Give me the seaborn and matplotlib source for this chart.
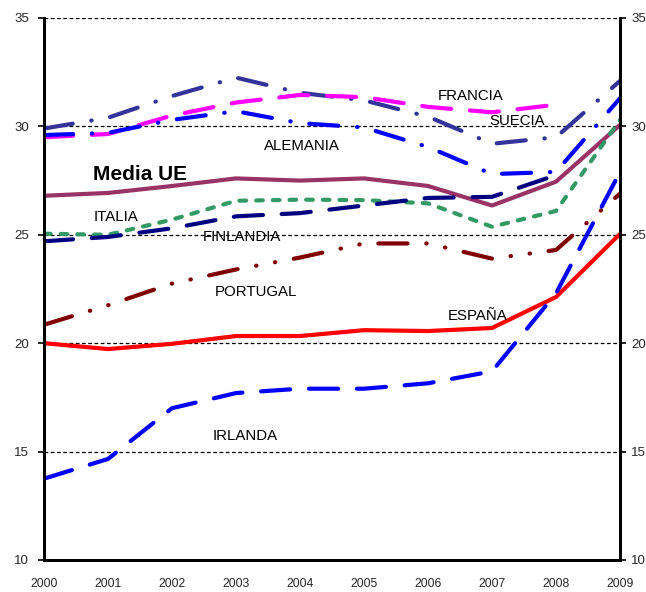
"""Renta / indicador por pais, 2000-2009, con la media UE."""

import matplotlib

matplotlib.use("Agg")
import matplotlib.pyplot as plt
import pandas as pd
import seaborn as sns

years = [2000, 2001, 2002, 2003, 2004, 2005, 2006, 2007, 2008, 2009]

suecia = [29.9, 30.4, 31.4, 32.25, 31.55, 31.2, 30.45, 29.2, 29.5, 32.1]
francia = [29.5, 29.65, 30.5, 31.1, 31.45, 31.35, 30.9, 30.65, 31.0]
alemania = [29.6, 29.7, 30.3, 30.7, 30.15, 29.95, 29.05, 27.8, 27.9, 31.3]
media_ue = [26.8, 26.93, 27.25, 27.6, 27.5, 27.6, 27.25, 26.35, 27.45, 30.07]
italia = [25.05, 25.0, 25.7, 26.57, 26.62, 26.6, 26.45, 25.37, 26.1, 30.3]
finlandia = [24.7, 24.9, 25.3, 25.85, 26.0, 26.35, 26.7, 26.75, 27.75]
portugal = [20.85, 21.75, 22.75, 23.4, 23.95, 24.6, 24.6, 23.9, 24.3, 26.9]
espana = [20.0, 19.73, 19.97, 20.33, 20.33, 20.6, 20.56, 20.7, 22.13, 25.04]
irlanda = [13.75, 14.66, 17.0, 17.7, 17.9, 17.9, 18.15, 18.7, 22.3, 27.9]

series = [
    ("SUECIA", suecia, "#333399", (0, (7, 4.5, 0.1, 4.5))),
    ("FRANCIA", francia, "#FF00FF", (0, (7, 4.5))),
    ("ALEMANIA", alemania, "#0000FF", (0, (7, 4.5, 0.1, 4.5))),
    ("Media UE", media_ue, "#993366", "-"),
    ("ITALIA", italia, "#339966", (0, (1.6, 2.4))),
    ("FINLANDIA", finlandia, "#000080", (0, (7, 4.5))),
    ("PORTUGAL", portugal, "#800000", (0, (7, 4.5, 0.1, 4.5, 0.1, 4.5))),
    ("ESPAÑA", espana, "#FF0000", "-"),
    ("IRLANDA", irlanda, "#0000FF", (0, (7, 4.5))),
]

labels = [
    ("FRANCIA", 2006.66, 31.4, "normal", 10.8),
    ("SUECIA", 2007.4, 30.25, "normal", 10.8),
    ("ALEMANIA", 2004.03, 29.1, "normal", 10.8),
    ("Media UE", 2001.5, 27.8, "bold", 15),
    ("ITALIA", 2001.12, 25.8, "normal", 10.8),
    ("FINLANDIA", 2003.1, 24.9, "normal", 10.8),
    ("PORTUGAL", 2003.31, 22.36, "normal", 10.8),
    ("ESPAÑA", 2006.78, 21.25, "normal", 10.8),
    ("IRLANDA", 2003.14, 15.72, "normal", 10.8),
]

sns.set_style("white")
plt.rcParams["font.family"] = ["Liberation Sans", "DejaVu Sans"]

fig = plt.figure(figsize=(6.46, 5.92), dpi=100)
ax = fig.add_axes([0.0681, 0.0541, 0.8917, 0.9155])

for yv in [15, 20, 25, 30, 35]:
    ax.axhline(yv, color="black", lw=0.9, ls=(0, (3, 2)), zorder=1)

for name, values, color, style in series:
    df = pd.DataFrame({"year": years[: len(values)], "value": values})
    sns.lineplot(data=df, x="year", y="value", ax=ax, color=color,
                 linestyle=style, linewidth=3.0, dash_capstyle="round",
                 solid_capstyle="round", zorder=3)

for text, x, y, weight, size in labels:
    ax.text(x, y, text, ha="center", va="center", fontsize=size,
            fontweight=weight, color="black", zorder=4)

ax.set_xlim(2000, 2009)
ax.set_ylim(10, 35)
ax.set_xticks(years)
ax.set_xticklabels([str(y) for y in years], fontsize=8.8)
ax.set_yticks([10, 15, 20, 25, 30, 35])
ax.set_xlabel("")
ax.set_ylabel("")
ax.tick_params(axis="x", direction="out", length=4, width=1.2, pad=9, color="black")
ax.tick_params(axis="y", direction="out", length=4, width=1.2, labelsize=9.5, pad=7,
               color="black")

# right-hand copy of the value axis
ax2 = ax.twinx()
ax2.set_ylim(10, 35)
ax2.set_yticks([10, 15, 20, 25, 30, 35])
ax2.tick_params(axis="y", direction="out", length=4, width=1.2, labelsize=9.5, pad=4,
                color="black")
ax2.grid(False)

for a in (ax, ax2):
    for side in ["left", "right", "bottom"]:
        a.spines[side].set_color("black")
        a.spines[side].set_linewidth(2)
    a.spines["top"].set_visible(False)

fig.savefig("out.png", dpi=100)
